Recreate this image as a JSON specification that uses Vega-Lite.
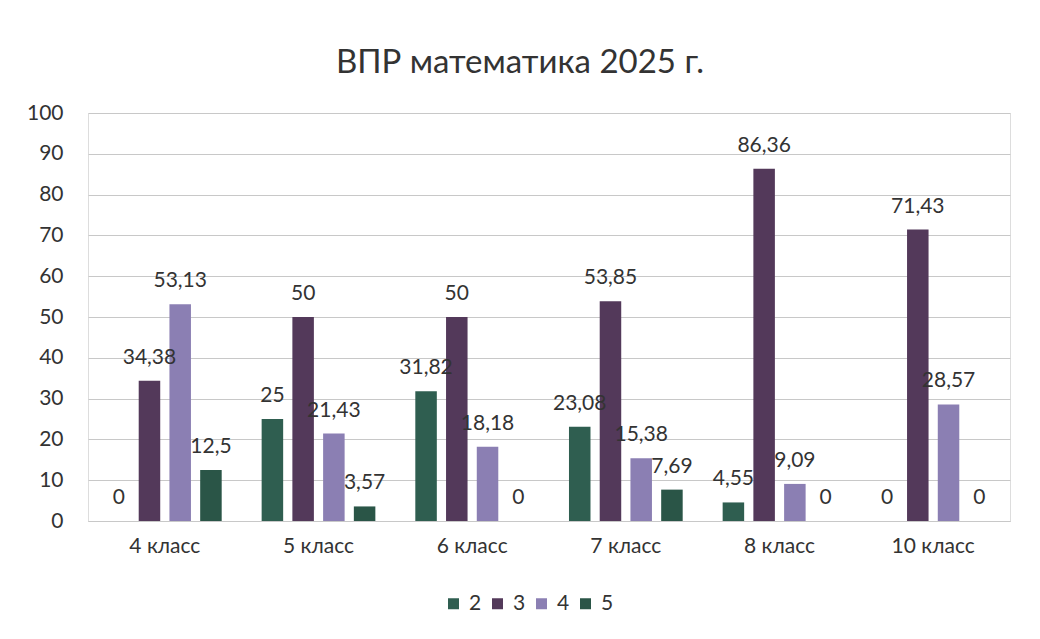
{
  "$schema": "https://vega.github.io/schema/vega-lite/v6.json",
  "width": 922,
  "height": 408,
  "autosize": "none",
  "padding": {"left": 88, "top": 113, "right": 30, "bottom": 118},
  "background": "white",
  "title": {"text": "ВПР математика 2025 г.", "fontSize": 33, "font": "Lato", "fontWeight": "normal", "color": "#333333", "offset": 22, "dx": -29},
  "data": {"values": [
    {"class": "4 класс", "grade": "2", "value": 0, "label": "0"},
    {"class": "4 класс", "grade": "3", "value": 34.38, "label": "34,38"},
    {"class": "4 класс", "grade": "4", "value": 53.13, "label": "53,13"},
    {"class": "4 класс", "grade": "5", "value": 12.5, "label": "12,5"},
    {"class": "5 класс", "grade": "2", "value": 25, "label": "25"},
    {"class": "5 класс", "grade": "3", "value": 50, "label": "50"},
    {"class": "5 класс", "grade": "4", "value": 21.43, "label": "21,43"},
    {"class": "5 класс", "grade": "5", "value": 3.57, "label": "3,57"},
    {"class": "6 класс", "grade": "2", "value": 31.82, "label": "31,82"},
    {"class": "6 класс", "grade": "3", "value": 50, "label": "50"},
    {"class": "6 класс", "grade": "4", "value": 18.18, "label": "18,18"},
    {"class": "6 класс", "grade": "5", "value": 0, "label": "0"},
    {"class": "7 класс", "grade": "2", "value": 23.08, "label": "23,08"},
    {"class": "7 класс", "grade": "3", "value": 53.85, "label": "53,85"},
    {"class": "7 класс", "grade": "4", "value": 15.38, "label": "15,38"},
    {"class": "7 класс", "grade": "5", "value": 7.69, "label": "7,69"},
    {"class": "8 класс", "grade": "2", "value": 4.55, "label": "4,55"},
    {"class": "8 класс", "grade": "3", "value": 86.36, "label": "86,36"},
    {"class": "8 класс", "grade": "4", "value": 9.09, "label": "9,09"},
    {"class": "8 класс", "grade": "5", "value": 0, "label": "0"},
    {"class": "10 класс", "grade": "2", "value": 0, "label": "0"},
    {"class": "10 класс", "grade": "3", "value": 71.43, "label": "71,43"},
    {"class": "10 класс", "grade": "4", "value": 28.57, "label": "28,57"},
    {"class": "10 класс", "grade": "5", "value": 0, "label": "0"}
  ]},
  "encoding": {
    "x": {
      "field": "class", "type": "nominal",
      "sort": ["4 класс", "5 класс", "6 класс", "7 класс", "8 класс", "10 класс"],
      "scale": {"paddingInner": 0.26, "paddingOuter": 0.13},
      "axis": {"title": null, "labelAngle": 0, "labelFont": "Lato", "labelFontSize": 21, "labelColor": "#333333", "labelPadding": 14, "ticks": false, "domain": true, "domainColor": "#c8c8c8", "grid": false}
    },
    "xOffset": {"field": "grade", "type": "nominal", "sort": ["2", "3", "4", "5"], "scale": {"paddingInner": 0.3}},
    "y": {
      "field": "value", "type": "quantitative",
      "scale": {"domain": [0, 100], "nice": false},
      "axis": {"title": null, "values": [0, 10, 20, 30, 40, 50, 60, 70, 80, 90, 100], "labelFont": "Lato", "labelFontSize": 21, "labelColor": "#333333", "labelPadding": 25, "ticks": false, "domain": false, "grid": true, "gridColor": "#c8c8c8", "gridWidth": 1}
    }
  },
  "layer": [
    {
      "mark": {"type": "bar"},
      "encoding": {
        "color": {
          "field": "grade", "type": "nominal", "sort": ["2", "3", "4", "5"],
          "scale": {"domain": ["2", "3", "4", "5"], "range": ["#2f5e50", "#53395a", "#8b7fb3", "#2a5547"]},
          "legend": {"title": null, "orient": "none", "legendX": 355, "legendY": 480, "direction": "horizontal", "symbolType": "square", "symbolSize": 121, "symbolStrokeWidth": 0, "labelFont": "Lato", "labelFontSize": 21, "labelColor": "#333333", "columnPadding": 5, "labelOffset": 5}
        }
      }
    },
    {
      "mark": {"type": "text", "baseline": "bottom", "dy": -13, "font": "Lato", "fontSize": 21, "color": "#333333"},
      "encoding": {"text": {"field": "label"}}
    }
  ]
}
